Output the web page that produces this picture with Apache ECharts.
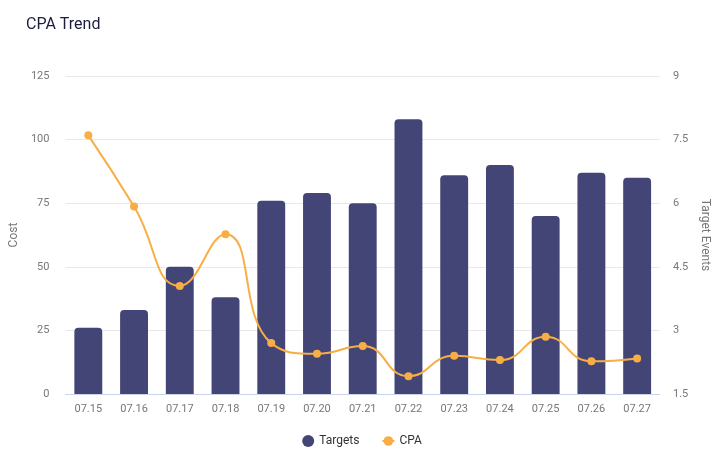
<!DOCTYPE html>
<html><head><meta charset="utf-8">
<script src="https://cdn.jsdelivr.net/npm/echarts@6/dist/echarts.min.js"></script>
<style>html,body{margin:0;padding:0;background:#fff}#c{width:724px;height:456px}</style>
</head><body><div id="c"></div>
<script>
const categories = ['07.15','07.16','07.17','07.18','07.19','07.20','07.21','07.22','07.23','07.24','07.25','07.26','07.27'];
const targets = [26, 33, 50, 38, 76, 79, 75, 108, 86, 90, 70, 87, 85];
const cpa = [7.6, 5.92, 4.05, 5.27, 2.7, 2.45, 2.63, 1.92, 2.4, 2.3, 2.85, 2.27, 2.34];
const leftTicks = {min: 0, max: 125, interval: 25};
const rightTicks = {min: 1.5, max: 9, interval: 1.5};

const chart = echarts.init(document.getElementById('c'), null, {renderer: 'canvas'});
const font = 'Roboto, "Noto Sans", sans-serif';
chart.setOption({
  animation: false,
  textStyle: {fontFamily: font},
  title: {text: 'CPA Trend', left: 21, top: 12, textStyle: {fontSize: 16, fontWeight: 'normal', color: '#1c1c3c', fontFamily: font}},
  legend: {bottom: 4, left: 'center', itemGap: 22, itemWidth: 12, itemHeight: 12, textStyle: {color: '#333', fontSize: 12},
    data: [{name: 'Targets', icon: 'circle'}, {name: 'CPA'}]},
  grid: {left: 63, right: 64, top: 76, bottom: 62},
  xAxis: {type: 'category', data: categories,
    axisLine: {lineStyle: {color: '#c9d5ea'}}, axisTick: {show: false},
    axisLabel: {color: '#777', fontSize: 11, margin: 10}},
  yAxis: [
    {type: 'value', name: 'Cost', nameLocation: 'middle', nameGap: 42, nameTextStyle: {color: '#777', fontSize: 12},
      min: leftTicks.min, max: leftTicks.max, interval: leftTicks.interval,
      axisLabel: {color: '#777', fontSize: 11, margin: 16},
      axisLine: {show: false}, axisTick: {show: false},
      splitLine: {lineStyle: {color: '#e8e8ec'}}},
    {type: 'value', name: 'Target Events', nameLocation: 'middle', nameGap: 38, nameRotate: -90,
      nameTextStyle: {color: '#777', fontSize: 12},
      min: rightTicks.min, max: rightTicks.max, interval: rightTicks.interval,
      axisLabel: {color: '#777', fontSize: 11, margin: 13},
      axisLine: {show: false}, axisTick: {show: false}, splitLine: {show: false}}
  ],
  series: [
    {name: 'Targets', type: 'bar', data: targets, yAxisIndex: 0, barWidth: '61%',
      itemStyle: {color: '#444577', borderRadius: [4, 4, 0, 0]}},
    {name: 'CPA', type: 'line', data: cpa, yAxisIndex: 1, smooth: true, symbol: 'circle', symbolSize: 8,
      lineStyle: {color: '#f8ae45', width: 2}, itemStyle: {color: '#f8ae45'}}
  ]
});
</script></body></html>
